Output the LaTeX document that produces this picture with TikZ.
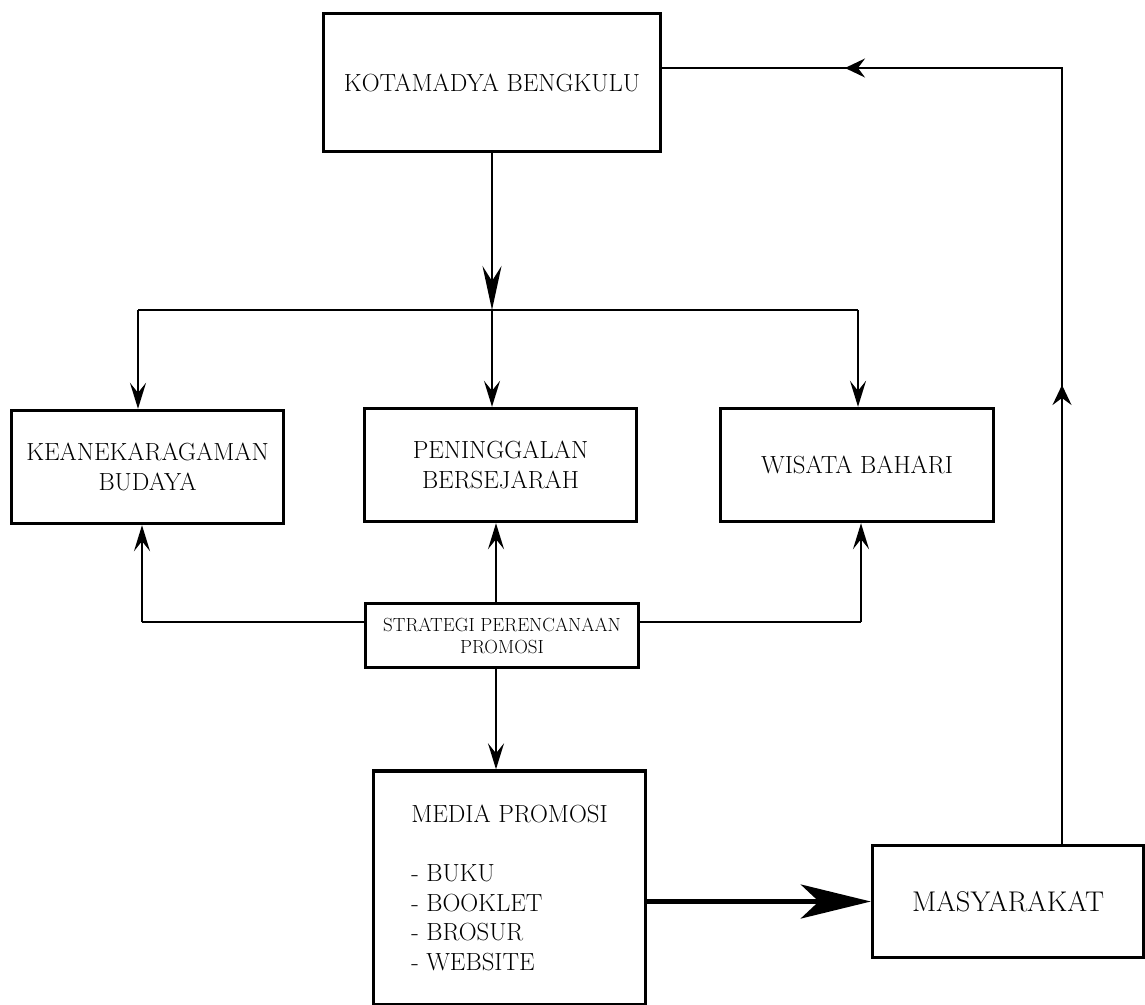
\documentclass[tikz,border=0pt]{standalone}
\usetikzlibrary{arrows.meta}
\begin{document}
\begin{tikzpicture}[x=1pt,y=-1pt,
  box/.style={draw, line width=3.4pt, inner sep=0pt, align=center,
    font=\fontsize{24.8}{30}\selectfont},
  conn/.style={line width=2.4pt},
  tip/.style={-{Stealth[length=26pt,width=16pt,inset=10pt]}},
  bigtip/.style={-{Stealth[length=44pt,width=19pt,inset=15pt]}},
  thintip/.style={-{Stealth[length=20pt,width=19pt,inset=7pt]}},
  fattip/.style={-{Stealth[length=70pt,width=34pt,inset=18pt]}},
]
\useasboundingbox (0,0) rectangle (1145,1004);

% boxes
\node[box, minimum width=337pt, minimum height=138pt] (kota) at (492,82.5) {KOTAMADYA BENGKULU};
\node[box, minimum width=272pt, minimum height=113pt] (kean) at (147.5,467) {KEANEKARAGAMAN\\BUDAYA};
\node[box, minimum width=272pt, minimum height=113pt] (pen) at (500.5,465) {PENINGGALAN\\BERSEJARAH};
\node[box, minimum width=273pt, minimum height=113pt] (wis) at (857,465) {WISATA BAHARI};
\node[box, minimum width=273pt, minimum height=64pt, font=\fontsize{19}{22}\selectfont] (strat) at (502,635.5) {STRATEGI PERENCANAAN\\PROMOSI};
\node[box, minimum width=272pt, minimum height=234pt, align=left,
  font=\fontsize{24.8}{29.5}\selectfont] (media) at (509.5,888)
  {MEDIA PROMOSI\\[29.5pt]- BUKU\\- BOOKLET\\- BROSUR\\- WEBSITE};
\node[box, minimum width=271pt, minimum height=112pt, font=\fontsize{28.5}{30}\selectfont] (masy) at (1008,901.5) {MASYARAKAT};

% junction coordinates
\coordinate (j) at (492,310);
\coordinate (jl) at (138,310);
\coordinate (jr) at (858,310);
\coordinate (bl) at (142,622);
\coordinate (br) at (861,622);
\coordinate (cx) at (496,700);
\coordinate (tr) at (1062,68);
\coordinate (au) at (1062,385);
\coordinate (al) at (845,68);

% top distribution
\draw[conn, line width=2.6pt, bigtip] (kota.south) -- (j);
\draw[line width=2pt] (jl) -- (jr);
\draw[conn, tip] (jl) -- (jl |- kean.north);
\draw[conn, tip] (j) -- (j |- pen.north);
\draw[conn, tip] (jr) -- (jr |- wis.north);

% strategy connections
\draw[conn] (strat.west |- bl) -- (bl);
\draw[conn, tip] (bl) -- (bl |- kean.south);
\draw[conn] (strat.east |- br) -- (br);
\draw[conn, tip] (br) -- (br |- wis.south);
\draw[conn, tip] (strat.north -| cx) -- (cx |- pen.south);
\draw[conn, tip] (strat.south -| cx) -- (cx |- media.north);

% media to masyarakat
\draw[line width=5pt, fattip] (masy.west -| media.east) -- (masy.west);

% feedback
\draw[line width=1.6pt] (masy.north -| tr) -- (tr) -- (kota.east |- tr);
\draw[line width=1.6pt, thintip] (masy.north -| tr) -- (au);
\draw[line width=1.6pt, thintip] (tr) -- (al);
\end{tikzpicture}
\end{document}
